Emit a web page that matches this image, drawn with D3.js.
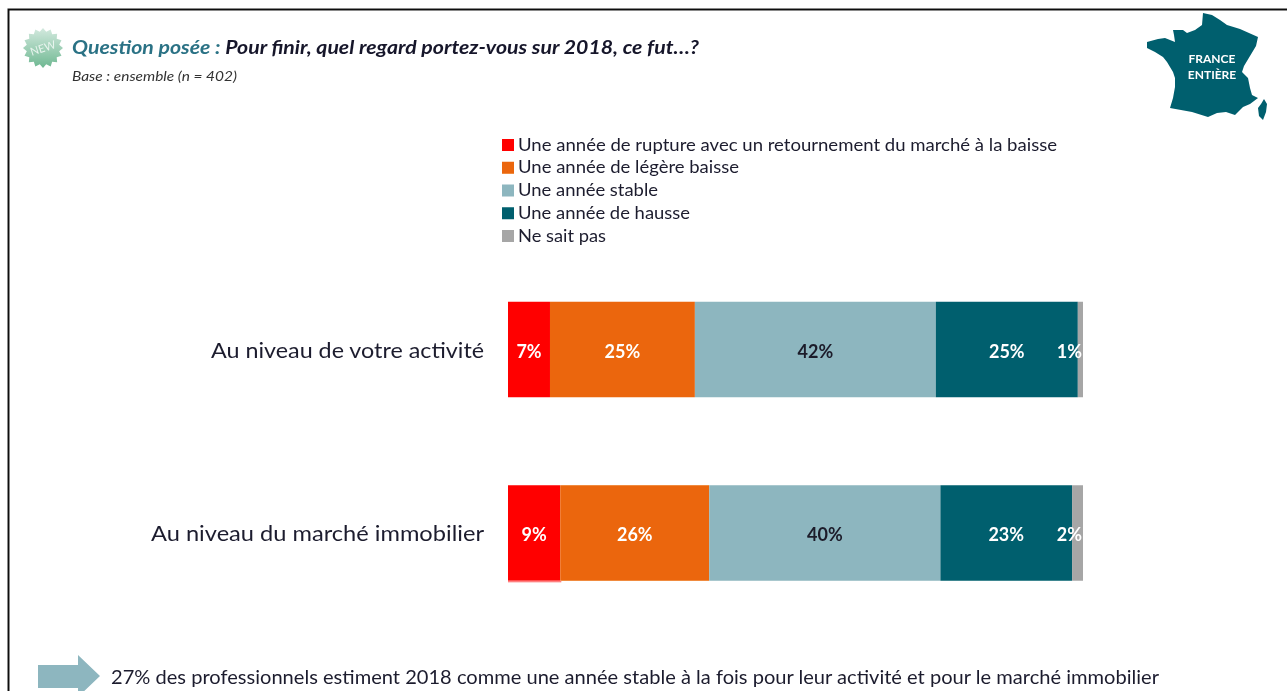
<!DOCTYPE html>
<html><head><meta charset="utf-8">
<script src="https://cdnjs.cloudflare.com/ajax/libs/d3/7.8.5/d3.min.js"></script>
<style>html,body{margin:0;padding:0;background:#fff;overflow:hidden}svg{display:block}text{font-family:Lato,"Open Sans",sans-serif}</style>
</head><body><svg id="c" width="1287" height="691"></svg>
<script>
const categories = ["Au niveau de votre activité", "Au niveau du marché immobilier"];
const seriesNames = ["Une année de rupture avec un retournement du marché à la baisse","Une année de légère baisse","Une année stable","Une année de hausse","Ne sait pas"];
const seriesColors = ["#ff0000","#eb6608","#8db6bf","#055f6e","#a6a6a6"];
const labelColors = ["#fff","#fff","#1c1c2a","#fff","#fff"];
const rupture = [7.3, 9.1];
const legereBaisse = [25.2, 25.9];
const stable = [41.9, 40.2];
const hausse = [24.7, 22.9];
const neSaitPas = [0.9, 1.9];
const seriesValues = [rupture, legereBaisse, stable, hausse, neSaitPas];
const franceOutline = [[1203,13],[1212,15],[1220,20],[1227,25],[1240,29],[1258,37],[1256,46],[1250,56],[1244,66],[1242,72],[1248,78],[1250,88],[1252,95],[1258,98],[1250,104],[1243,107],[1235,115],[1226,112],[1217,113],[1208,117],[1192,112],[1170,108],[1173,98],[1175,87],[1175,78],[1173,72],[1167,62],[1163,57],[1155,52],[1147,48],[1147,42],[1158,39],[1165,38],[1175,42],[1174,35],[1173,30],[1183,30],[1187,33],[1195,30],[1202,25]];
const corsica = [[1264,99],[1267,104],[1266,112],[1263,120],[1259,116],[1258,108],[1261,104]];

const svg = d3.select("#c");
const defs = svg.append("defs");
const g = defs.append("linearGradient").attr("id","badge").attr("x1",0).attr("y1",0).attr("x2",0).attr("y2",1);
g.append("stop").attr("offset","0%").attr("stop-color","#d3e9de");
g.append("stop").attr("offset","100%").attr("stop-color","#6fb892");
defs.append("filter").attr("id","soft").append("feGaussianBlur").attr("stdDeviation",0.5);

const root = svg.append("g").attr("filter","url(#soft)");
const ink = "#1c1c2e";
const fit = (sel, w) => sel.attr("textLength", w).attr("lengthAdjust","spacingAndGlyphs");

// frame (open on the right, as cropped in the source)
root.append("path").attr("d","M8.5,691V9.5H1287").attr("fill","none").attr("stroke","#111").attr("stroke-width",2);

// badge
const spikes = 16;
const starPts = d3.range(spikes*2).map(i=>{const r=i%2?16.5:20,a=i*Math.PI/spikes;return [r*Math.sin(a),-r*Math.cos(a)];});
const badge = root.append("g").attr("transform","translate(43,48)");
badge.append("path").attr("d",d3.line().curve(d3.curveLinearClosed)(starPts)).attr("fill","url(#badge)");
badge.append("text").attr("text-anchor","middle").attr("y",4).attr("font-size",11).attr("fill","#e8f4ee").attr("transform","rotate(-18)").text("NEW");

// header
const title = root.append("text").attr("x",72).attr("y",54).attr("font-size",18.5).attr("font-style","italic").attr("font-weight",700).attr("fill","#15152a");
fit(title,627);
title.append("tspan").attr("fill","#2b7285").text("Question posée : ");
title.append("tspan").text("Pour finir, quel regard portez-vous sur 2018, ce fut…?");
fit(root.append("text").attr("x",72).attr("y",81).attr("font-size",13.5).attr("font-style","italic").attr("fill","#333").text("Base : ensemble (n = 402)"),165);

// map
const closed = d3.line().curve(d3.curveLinearClosed);
root.append("path").attr("d",closed(franceOutline)).attr("fill","#055f6e");
root.append("path").attr("d",closed(corsica)).attr("fill","#055f6e");
root.append("text").attr("x",1212).attr("y",63).attr("text-anchor","middle").attr("font-size",12).attr("font-weight",700).attr("fill","#fff").text("FRANCE");
root.append("text").attr("x",1212).attr("y",79).attr("text-anchor","middle").attr("font-size",12).attr("font-weight",700).attr("fill","#fff").text("ENTIÈRE");

// legend
const legendWidths = [539,221,140,172,88];
const leg = d3.scalePoint().domain(seriesNames).range([145,236]);
const li = root.append("g").selectAll("g").data(seriesNames).join("g").attr("transform",d=>`translate(0,${leg(d)})`);
li.append("rect").attr("x",502).attr("y",-6).attr("width",12).attr("height",12).attr("fill",(d,i)=>seriesColors[i]);
fit(li.append("text").attr("x",518).attr("y",5.5).attr("font-size",17).attr("fill",ink).text(d=>d),(d,i)=>legendWidths[i]);

// bars
const x = d3.scaleLinear().domain([0,100]).range([508,1083]);
const bandY = d3.scalePoint().domain(categories).range([349.5,533]);
const h = 95.5;
const rowLabelWidths = [273,333];
const rows = root.append("g").selectAll("g").data(categories).join("g").attr("transform",d=>`translate(0,${bandY(d)})`);
fit(rows.append("text").attr("x",211).attr("y",8).attr("font-size",22).attr("fill",ink).attr("x",(d,i)=>484-rowLabelWidths[i]).text(d=>d),(d,i)=>rowLabelWidths[i]);
rows.each(function(cat,ci){
  let cum = 0;
  const stacks = seriesValues.map((s,si)=>{const o={si,v:s[ci],a:cum,b:cum+s[ci]};cum=o.b;return o;});
  const r = d3.select(this);
  r.selectAll("rect").data(stacks).join("rect").attr("x",d=>x(d.a)).attr("y",-h/2).attr("width",d=>x(d.b)-x(d.a)).attr("height",h).attr("fill",d=>seriesColors[d.si]);
  r.selectAll("text.v").data(stacks).join("text").attr("class","v")
    .attr("x",d=>d.si===4?x(100)-1:(x(d.a)+x(d.b))/2)
    .attr("y",8).attr("text-anchor",d=>d.si===4?"end":"middle")
    .attr("font-size",18).attr("font-weight",700).attr("fill",d=>labelColors[d.si])
    .text(d=>Math.round(d.v)+"%");
  if (ci===1) r.append("rect").attr("x",x(0)).attr("y",h/2).attr("width",x(rupture[1])-x(0)+1).attr("height",1.6).attr("fill","#ff7f7f");
});

// takeaway
const ax=[[38,665],[78,665],[78,655],[100,676],[78,697],[78,688],[38,688]];
root.append("path").attr("d",closed(ax)).attr("fill","#8db6bf");
fit(root.append("text").attr("x",111).attr("y",684).attr("font-size",19).attr("fill",ink).text("27% des professionnels estiment 2018 comme une année stable à la fois pour leur activité et pour le marché immobilier"),1048);
</script></body></html>
